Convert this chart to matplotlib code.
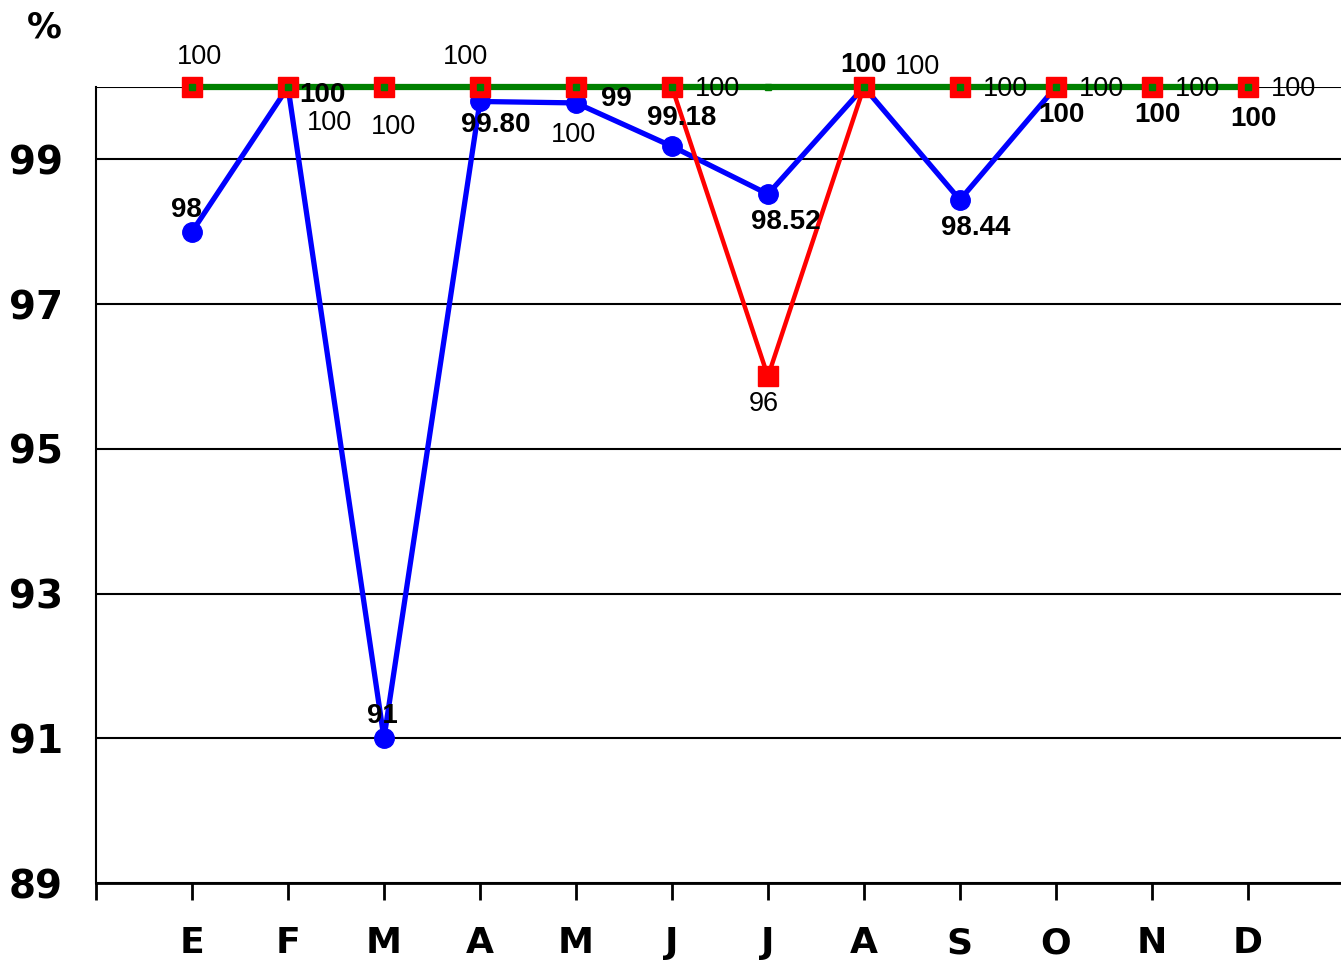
import matplotlib
matplotlib.use("Agg")
import matplotlib.pyplot as plt

# Data
months = ["E", "F", "M", "A", "M", "J", "J", "A", "S", "O", "N", "D"]
blue_vals = [98, 100, 91, 99.80, 99.78, 99.18, 98.52, 100, 98.44, 100, 100, 100]
blue_labels = ["98", "100", "91", "99.80", "99", "99.18", "98.52", "100", "98.44", "100", "100", "100"]
red_vals = [100, 100, 100, 100, 100, 100, 96, 100, 100, 100, 100, 100]
red_labels = ["100", "100", "100", "100", "100", "100", "96", "100", "100", "100", "100", "100"]
green_vals = [100] * 12
yticks = [89, 91, 93, 95, 97, 99]

# label offsets in pixels (dx, dy)
blue_off = [(-6, 22), (34, -8), (-2, 22), (16, -24), (40, 4), (10, 28), (18, -28), (0, 22), (16, -28), (6, -28), (6, -28), (6, -32)]
red_off = [(8, 30), (42, -36), (10, -40), (-14, 30), (-2, -48), (46, -2), (-4, -28), (54, 20), (46, -2), (46, -2), (46, -2), (46, -2)]

x = list(range(1, 13))

fig = plt.figure(figsize=(13.41, 9.61), dpi=100)
ax = fig.add_axes([96 / 1341, 78 / 961, 1 - 96 / 1341, (883 - 87) / 961])

ax.plot(x, blue_vals, color="#0000ff", lw=3.8, marker="o", markersize=14, zorder=2, clip_on=False)
ax.plot(x, red_vals, color="#ff0000", lw=3.2, zorder=3, clip_on=False)
ax.plot(x, green_vals, color="#008000", lw=4.5, zorder=4, clip_on=False)
ax.plot(x, red_vals, ls="none", marker="s", markersize=14, color="#ff0000", zorder=5, clip_on=False)
ax.plot(x, green_vals, ls="none", marker="s", markersize=5, color="#008000", zorder=6, clip_on=False)

for xi, v, lab, (dx, dy) in zip(x, blue_vals, blue_labels, blue_off):
    ax.annotate(lab, (xi, v), xytext=(dx, dy), textcoords="offset pixels",
                ha="center", va="center", fontsize=20, fontweight="bold",
                family="Liberation Sans", zorder=7, annotation_clip=False)
for xi, v, lab, (dx, dy) in zip(x, red_vals, red_labels, red_off):
    ax.annotate(lab, (xi, v), xytext=(dx, dy), textcoords="offset pixels",
                ha="center", va="center", fontsize=19.5,
                family="Liberation Sans", zorder=7, annotation_clip=False)

ax.set_xlim(0, 12.97)
ax.set_ylim(89, 100)
ax.set_yticks(yticks)
ax.set_yticklabels([str(t) for t in yticks], fontsize=28, fontweight="bold")
ax.tick_params(axis="y", length=0, pad=24)
ax.set_xticks(x)
ax.set_xticklabels(months, fontsize=26, fontweight="bold")
ax.set_xticks(range(0, 13), minor=True)
ax.tick_params(axis="x", which="both", length=12, width=2, direction="out")
ax.tick_params(axis="x", which="major", pad=19)

for t in yticks:
    ax.axhline(t, color="black", lw=1.5, zorder=1)
ax.axhline(100, color="black", lw=1.5, zorder=1)

ax.spines["right"].set_visible(False)
ax.spines["top"].set_visible(False)
ax.spines["left"].set_linewidth(1.5)
ax.spines["bottom"].set_linewidth(2)

fig.text(44 / 1341, 1 - 28 / 961, "%", fontsize=25, fontweight="bold", ha="center", va="center")

fig.savefig("out.png", dpi=100)
